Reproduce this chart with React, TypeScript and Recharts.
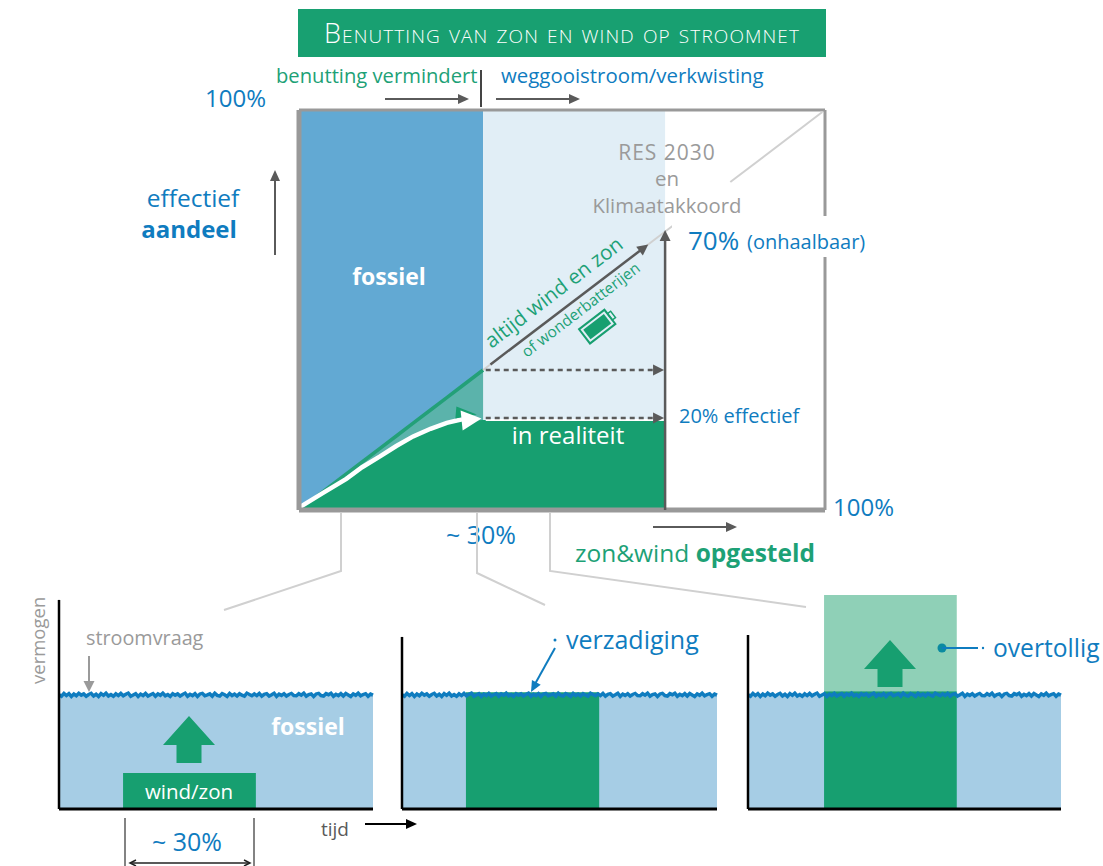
import { Area, ComposedChart, Line, ReferenceDot, ReferenceLine, XAxis, YAxis } from "recharts";

const GREEN = "#179f70";
const GREEN_TEXT = "#1da176";
const BLUE = "#0f7cbf";
const GREY = "#9a9a9a";
const DARK = "#5a5a5a";
const FONT = "'Open Sans', Lato, sans-serif";

// main chart: share of wind/sun installed (x) against effective share (y)
const shareX = [0, 4.5, 9, 12, 15.4, 18.5, 21.7, 25, 28.1, 31, 35, 69.6];
const idealShare = [0, 4.5, 9, 12, 15.4, 18.5, 21.7, 25, 28.1, 31, 35, null];
const realShare = [0, 3.9, 7.6, 10.6, 13.4, 16, 18.4, 20.2, 21.6, 22.4, 22.5, 22.5];
const whiteCurve = [0.6, 4.2, 7.8, 10.7, 13.4, 16, 18.4, 20.3, 21.8, 22.7, null, null];
const fossilTop = 100;
const surplusFrom = 35;

const mainRows = shareX.map((x, i) => ({
  x,
  ideal: idealShare[i],
  real: realShare[i],
  white: whiteCurve[i],
  fossil: idealShare[i] === null ? null : [idealShare[i], fossilTop],
  lost: idealShare[i] === null ? null : [realShare[i], idealShare[i]],
  wasted: x >= surplusFrom ? [realShare[i], fossilTop] : null,
}));

// bottom charts: power over time
const demandNoiseA = [
  53.4, 52.7, 54.0, 53.0, 53.9, 52.6, 53.7, 52.9, 54.1, 53.2, 53.8, 52.7, 53.5, 54.0, 52.8, 53.6,
  52.6, 53.9, 53.1, 54.1, 52.8, 53.5, 52.7, 53.8, 53.0, 54.0, 52.9, 53.6, 54.1, 52.7, 53.3, 53.9,
  52.6, 53.7, 53.0, 54.0, 52.8, 53.4, 53.9, 52.7, 53.8, 53.1, 54.1, 52.9, 53.5, 52.6, 53.9, 53.2,
];
const demandNoiseB = [
  53.8, 52.8, 53.5, 54.1, 52.7, 53.6, 53.0, 53.9, 52.6, 53.7, 54.0, 52.9, 53.3, 53.8, 52.7, 54.1,
  53.1, 52.8, 53.9, 53.4, 52.6, 54.0, 53.0, 53.7, 52.8, 53.9, 53.2, 52.7, 54.1, 53.5, 52.9, 53.8,
  53.0, 54.0, 52.7, 53.6, 53.9, 52.8, 53.4, 54.1, 52.6, 53.7, 53.1, 53.9, 52.8, 53.5, 54.0, 53.0,
];
const demandNoiseC = [
  52.9, 53.9, 53.2, 54.1, 52.7, 53.5, 53.8, 52.6, 53.7, 54.0, 53.0, 52.8, 53.9, 53.4, 54.1, 52.7,
  53.6, 53.0, 53.9, 52.8, 54.0, 53.3, 52.6, 53.8, 53.1, 54.1, 52.9, 53.5, 53.9, 52.7, 53.7, 53.2,
];
const demandNoise = [...demandNoiseA, ...demandNoiseB, ...demandNoiseC];
const fossilLevel = 52.8;
const blockStart = [20.4, 20.3, 24.3];
const blockEnd = [62.7, 62.6, 66.7];
const blockTop = [16.8, 54.6, 55];
const overflowTop = [null, null, 100];
const axisTop = [97.7, 80.4, 81.3];
const panelLeft = [59, 402, 748];
const panelWidth = [314, 315, 313];

function panelRows(p: number) {
  const noisy = demandNoise.map((v, i) => ({ x: (i * 100) / (demandNoise.length - 1), demand: v as number | null }));
  const edges = [blockStart[p], blockEnd[p]].map((x) => ({ x, demand: null as number | null }));
  return [...noisy, ...edges]
    .sort((a, b) => a.x - b.x)
    .map((r) => {
      const inside = r.x >= blockStart[p] && r.x <= blockEnd[p];
      return {
        ...r,
        fossil: fossilLevel,
        block: inside ? blockTop[p] : null,
        overflow: inside && overflowTop[p] ? [blockTop[p], overflowTop[p]] : null,
      };
    });
}

function headAt(x: number, y: number, angle: number, len: number, half: number, fill: string) {
  return (
    <polygon
      points={`0,0 ${-len},${-half} ${-len},${half}`}
      fill={fill}
      transform={`translate(${x} ${y}) rotate(${angle})`}
    />
  );
}

const arrowShape = (color: string, width: number, dash?: string) => (props: any) => {
  const { x1, y1, x2, y2 } = props;
  const angle = (Math.atan2(y2 - y1, x2 - x1) * 180) / Math.PI;
  const r = (angle * Math.PI) / 180;
  return (
    <g>
      <line x1={x1} y1={y1} x2={x2 - 8 * Math.cos(r)} y2={y2 - 8 * Math.sin(r)} stroke={color} strokeWidth={width} strokeDasharray={dash} />
      {headAt(x2, y2, angle, 11, 5.5, color)}
    </g>
  );
};

const curveHead = (fill: string, angle: number, len: number, half: number) => (props: any) =>
  headAt(props.cx, props.cy, angle, len, half, fill);

function MainChart() {
  return (
    <div style={{ position: "absolute", left: 289, top: 100 }}>
      <ComposedChart width={546} height={420} data={mainRows} margin={{ top: 10, right: 10, bottom: 10, left: 10 }}>
        <XAxis dataKey="x" type="number" domain={[0, 100]} hide height={0} />
        <YAxis type="number" domain={[0, 100]} hide width={0} />
        <Area dataKey="fossil" type="linear" fill="#62a9d3" fillOpacity={1} stroke="none" isAnimationActive={false} />
        <Area dataKey="wasted" type="linear" fill="#e1eef6" fillOpacity={1} stroke="none" isAnimationActive={false} />
        <Area dataKey="lost" type="linear" fill="#5bb3ab" fillOpacity={1} stroke="none" isAnimationActive={false} />
        <Area dataKey="real" type="linear" fill={GREEN} fillOpacity={1} stroke="none" isAnimationActive={false} />
        <Line dataKey="ideal" type="linear" stroke="#23a078" strokeWidth={3.5} dot={false} isAnimationActive={false} />
        <Line dataKey="white" type="linear" stroke="#ffffff" strokeWidth={4.5} dot={false} isAnimationActive={false} />
        <ReferenceLine y={100} stroke="#999999" strokeWidth={3} />
        <ReferenceLine x={100} stroke="#999999" strokeWidth={3} />
        <ReferenceLine x={0} stroke="#999999" strokeWidth={5} />
        <ReferenceLine y={0} stroke="#999999" strokeWidth={5} />
        <ReferenceLine segment={[{ x: 82, y: 82 }, { x: 99.5, y: 99.5 }]} stroke="#d0d0d0" strokeWidth={2} />
        <ReferenceLine segment={[{ x: 66, y: 66 }, { x: 71, y: 71 }]} stroke="#d0d0d0" strokeWidth={2} />
        <ReferenceLine segment={[{ x: 35, y: 35 }, { x: 37, y: 37 }]} stroke="#d0d0d0" strokeWidth={2} />
        <ReferenceLine segment={[{ x: 36.4, y: 36.4 }, { x: 66.4, y: 66.4 }]} shape={arrowShape(DARK, 2.5)} />
        <ReferenceLine segment={[{ x: 35.5, y: 22.5 }, { x: 69.6, y: 22.5 }]} stroke="#ffffff" strokeWidth={2} />
        <ReferenceLine segment={[{ x: 35.5, y: 35 }, { x: 69.4, y: 35 }]} shape={arrowShape(DARK, 2.5, "5 4")} />
        <ReferenceLine segment={[{ x: 35.5, y: 23 }, { x: 69.4, y: 23 }]} shape={arrowShape(DARK, 2.5, "5 4")} />
        <ReferenceLine segment={[{ x: 69.6, y: 0 }, { x: 69.6, y: 70 }]} shape={arrowShape(DARK, 2.5)} />
        <ReferenceDot x={33.8} y={23.9} shape={curveHead(GREEN, 5, 21, 6)} />
        <ReferenceDot x={34.7} y={22.9} shape={curveHead("#ffffff", -6, 20, 10)} />
      </ComposedChart>
    </div>
  );
}

function Panel({ p }: { p: number }) {
  return (
    <div style={{ position: "absolute", left: panelLeft[p] - 10, top: 585 }}>
      <ComposedChart
        width={panelWidth[p] + 20}
        height={234}
        data={panelRows(p)}
        margin={{ top: 10, right: 10, bottom: 10, left: 10 }}
      >
        <XAxis dataKey="x" type="number" domain={[0, 100]} hide height={0} />
        <YAxis type="number" domain={[0, 100]} hide width={0} />
        <Area dataKey="fossil" type="linear" fill="#a6cde5" fillOpacity={1} stroke="none" isAnimationActive={false} />
        <Line dataKey="demand" type="linear" connectNulls stroke={BLUE} strokeWidth={3.5} dot={false} isAnimationActive={false} />
        {overflowTop[p] !== null && (
          <Area dataKey="overflow" type="linear" fill="#8fd0b7" fillOpacity={1} stroke="none" isAnimationActive={false} />
        )}
        <Area dataKey="block" type="linear" fill={GREEN} fillOpacity={1} stroke="none" isAnimationActive={false} />
        <ReferenceLine y={0} stroke="#000000" strokeWidth={3} />
        <ReferenceLine segment={[{ x: 0, y: 0 }, { x: 0, y: axisTop[p] }]} stroke="#000000" strokeWidth={2.5} />
      </ComposedChart>
    </div>
  );
}

function UpArrow({ cx, tip }: { cx: number; tip: number }) {
  return (
    <polygon
      points={`${cx},${tip} ${cx + 26},${tip + 29} ${cx + 12.5},${tip + 29} ${cx + 12.5},${tip + 47} ${cx - 12.5},${tip + 47} ${cx - 12.5},${tip + 29} ${cx - 26},${tip + 29}`}
      fill={GREEN}
    />
  );
}

function HArrow({ x1, x2, y, color = DARK, w = 2 }: { x1: number; x2: number; y: number; color?: string; w?: number }) {
  return (
    <g>
      <line x1={x1} y1={y} x2={x2 - 8} y2={y} stroke={color} strokeWidth={w} />
      {headAt(x2, y, 0, 11, 5, color)}
    </g>
  );
}

function Overlay() {
  const t = { fontFamily: FONT };
  return (
    <svg width={1103} height={866} style={{ position: "absolute", left: 0, top: 0 }}>
      <g style={t}>
        <rect x={298} y={9} width={528} height={48} fill="#18a071" />
        <text x={562} y={43} textAnchor="middle" fill="#ffffff" fontSize={27} fontWeight={300} letterSpacing={1.1} style={{ fontVariant: "small-caps" }}>
          Benutting van zon en wind op stroomnet
        </text>

        <text x={276} y={83} fill={GREEN_TEXT} fontSize={20.2}>benutting vermindert</text>
        <text x={501} y={83} fill={BLUE} fontSize={20.4}>weggooistroom/verkwisting</text>
        <HArrow x1={385} x2={469} y={99} />
        <HArrow x1={496} x2={580} y={99} />
        <line x1={481} y1={70} x2={481} y2={107} stroke="#444444" strokeWidth={2} />
        <text x={205} y={107} fill={BLUE} fontSize={24}>100%</text>

        <text x={193} y={207} textAnchor="middle" fill={BLUE} fontSize={24.5}>effectief</text>
        <text x={189} y={238} textAnchor="middle" fill={BLUE} fontSize={24}>
          <tspan fontWeight={700}>aandeel</tspan>
        </text>
        <line x1={275} y1={255} x2={275} y2={178} stroke={DARK} strokeWidth={2} />
        {headAt(275, 170, -90, 11, 5, DARK)}

        <text x={389} y={285} textAnchor="middle" fill="#ffffff" fontSize={23} fontWeight={700}>fossiel</text>

        <text x={667} y={160} textAnchor="middle" fill={GREY} fontSize={21} letterSpacing={1}>RES 2030</text>
        <text x={667} y={186} textAnchor="middle" fill={GREY} fontSize={20.5}>en</text>
        <text x={667} y={213} textAnchor="middle" fill={GREY} fontSize={20.3}>Klimaatakkoord</text>

        <rect x={672} y={216} width={196} height={41} fill="#ffffff" />
        <text x={688} y={250} fill={BLUE} fontSize={26}>70%</text>
        <text x={747} y={249} fill={BLUE} fontSize={20}>(onhaalbaar)</text>

        <text x={558} y={298} textAnchor="middle" fill={GREEN_TEXT} fontSize={20.5} transform="rotate(-37.5 558 298)">altijd wind en zon</text>
        <text x={584} y={314} textAnchor="middle" fill={GREEN_TEXT} fontSize={15.5} transform="rotate(-37.5 584 314)">of wonderbatterijen</text>
        <g transform="translate(598 326) rotate(-37.5)">
          <rect x={-17} y={-9} width={32} height={18} fill="none" stroke={GREEN} strokeWidth={2} />
          <rect x={-14} y={-6} width={26} height={12} fill={GREEN} />
          <rect x={15} y={-4} width={4} height={8} fill="none" stroke={GREEN} strokeWidth={1.5} />
        </g>

        <text x={568} y={444} textAnchor="middle" fill="#ffffff" fontSize={24}>in realiteit</text>
        <text x={679} y={423} fill={BLUE} fontSize={20}>20% effectief</text>
        <text x={833} y={516} fill={BLUE} fontSize={24}>100%</text>
        <text x={481} y={544} textAnchor="middle" fill={BLUE} fontSize={25}>~ 30%</text>
        <HArrow x1={653} x2={737} y={527} />
        <text x={575} y={562} fill={GREEN_TEXT} fontSize={24.5}>
          zon&amp;wind <tspan fontWeight={700}>opgesteld</tspan>
        </text>

        <g fill="none" stroke="#d0d0d0" strokeWidth={2}>
          <polyline points="341,513 341,571 224,610" />
          <polyline points="477,513 477,573 545,605" />
          <polyline points="550,513 550,571 806,607" />
        </g>

        <text x={45} y={684} fill={GREY} fontSize={18.5} transform="rotate(-90 45 684)">vermogen</text>
        <text x={86} y={645} fill={GREY} fontSize={19.8}>stroomvraag</text>
        <line x1={89} y1={656} x2={89} y2={684} stroke={GREY} strokeWidth={2} />
        {headAt(89, 692, 90, 11, 5.5, GREY)}

        <UpArrow cx={189} tip={716} />
        <text x={308} y={735} textAnchor="middle" fill="#ffffff" fontSize={23} fontWeight={700}>fossiel</text>
        <text x={189} y={799} textAnchor="middle" fill="#ffffff" fontSize={20.5}>wind/zon</text>

        <line x1={125} y1={818} x2={125} y2={866} stroke={DARK} strokeWidth={1.5} />
        <line x1={254} y1={818} x2={254} y2={866} stroke={DARK} strokeWidth={1.5} />
        <text x={187} y={851} textAnchor="middle" fill={BLUE} fontSize={25}>~ 30%</text>
        <line x1={131} y1={863} x2={249} y2={863} stroke="#222222" strokeWidth={1.5} />
        <polyline points="136,860 130,863 136,866" fill="none" stroke="#222222" strokeWidth={1.5} />
        <polyline points="244,860 250,863 244,866" fill="none" stroke="#222222" strokeWidth={1.5} />

        <text x={321} y={836} fill={DARK} fontSize={19}>tijd</text>
        <HArrow x1={365} x2={417} y={824} color="#000000" />

        <circle cx={555} cy={640} r={1.5} fill={BLUE} />
        <text x={566} y={649} fill={BLUE} fontSize={25}>verzadiging</text>
        <line x1={555} y1={648} x2={535} y2={684} stroke={BLUE} strokeWidth={2} />
        {headAt(531, 692, 119, 11, 5, BLUE)}

        <UpArrow cx={890} tip={640} />
        <circle cx={942} cy={648} r={4.5} fill="#0b8aa0" />
        <line x1={942} y1={648} x2={978} y2={648} stroke={BLUE} strokeWidth={2} />
        <circle cx={983} cy={648} r={1.2} fill={BLUE} />
        <text x={993} y={657} fill={BLUE} fontSize={24.6}>overtollig</text>
      </g>
    </svg>
  );
}

export default function App() {
  return (
    <div style={{ position: "absolute", left: 0, top: 0, width: 1103, height: 866, background: "#ffffff", overflow: "hidden" }}>
      <MainChart />
      <Panel p={0} />
      <Panel p={1} />
      <Panel p={2} />
      <Overlay />
    </div>
  );
}
